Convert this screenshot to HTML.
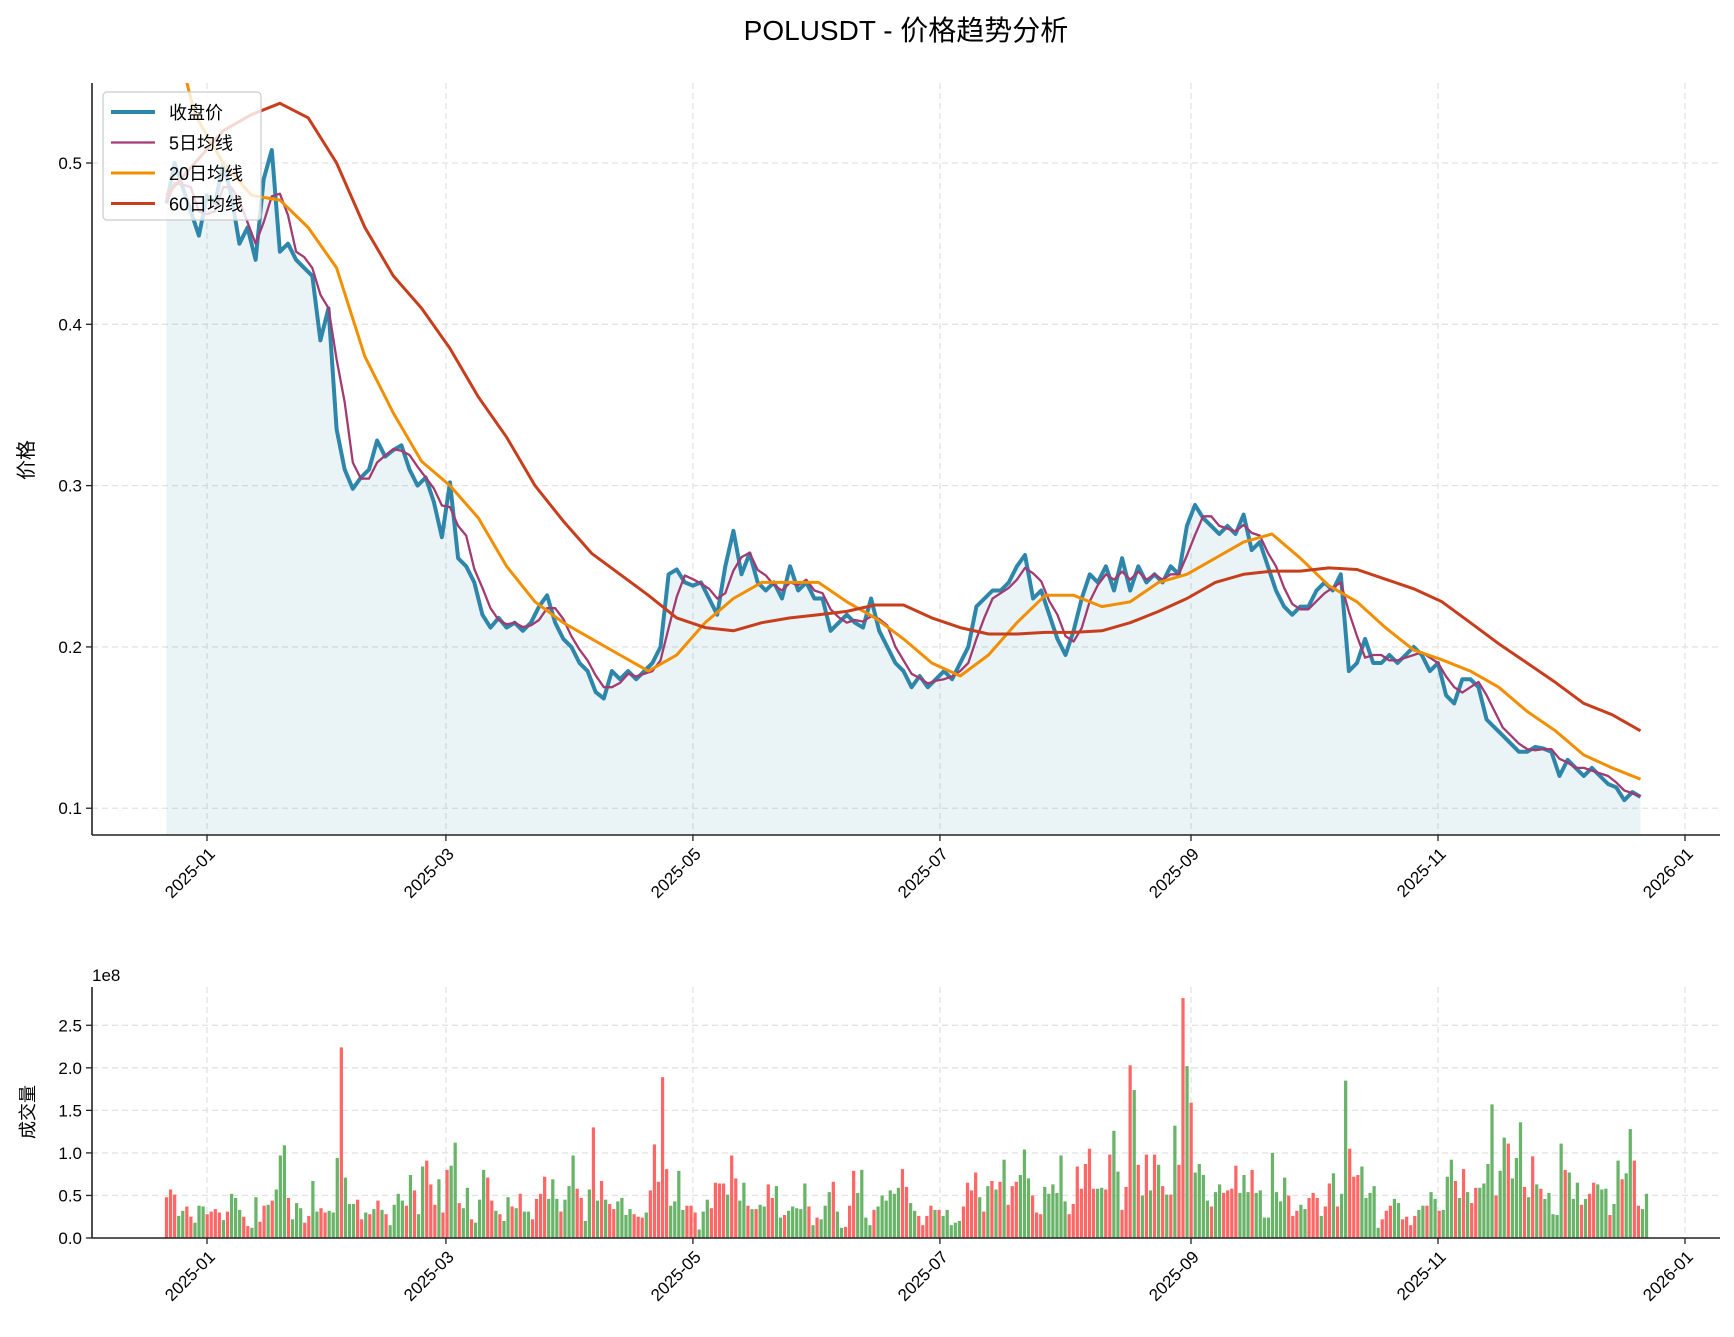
<!DOCTYPE html>
<html><head><meta charset="utf-8"><style>
body{margin:0;background:#fff}
svg text{font-family:"WenQuanYi Zen Hei","Liberation Sans","Noto Sans CJK SC",sans-serif;fill:#000}
</style></head><body>
<svg id="chart" width="1734" height="1332" viewBox="0 0 1734 1332" xmlns="http://www.w3.org/2000/svg">
<text x="906" y="40" font-size="28" text-anchor="middle">POLUSDT - 价格趋势分析</text>
<g id="price"></g>
<g id="vol"></g>
</svg>
<script>
// ---- data ----
const closeStart = -10;  // 2024-12-22, days relative to 2025-01-01
const closeStep = 2;
const closeValues = [0.475,0.50,0.485,0.47,0.455,
0.48,0.475,0.50,0.48,0.45,0.46,0.44,0.49,0.508,0.445,0.45,0.44,0.435,0.43,0.39,0.41,
0.335,0.31,0.298,0.305,0.31,0.328,0.318,0.322,0.325,0.31,0.30,0.305,0.29,0.268,
0.302,0.255,0.25,0.24,0.22,0.212,0.218,0.212,0.215,0.21,0.215,0.225,0.232,0.215,0.205,
0.20,0.19,0.185,0.172,0.168,0.185,0.18,0.185,0.18,0.185,0.19,0.2,0.245,0.248,0.24,
0.238,0.24,0.23,0.22,0.25,0.272,0.245,0.258,0.24,0.235,0.24,0.23,0.25,0.235,0.24,0.23,
0.23,0.21,0.215,0.22,0.215,0.212,0.23,0.21,0.20,0.19,0.185,0.175,0.182,0.175,0.18,
0.185,0.18,0.19,0.20,0.225,0.23,0.235,0.235,0.24,0.25,0.257,0.23,0.235,0.22,0.205,
0.195,0.21,0.23,0.245,0.24,0.25,0.235,0.255,0.235,0.25,0.24,0.245,0.24,0.25,0.245,0.275,
0.288,0.28,0.275,0.27,0.275,0.27,0.282,0.26,0.265,0.25,0.235,0.225,0.22,0.225,0.225,
0.235,0.24,0.235,0.245,0.185,0.19,0.205,0.19,0.19,0.195,0.19,0.195,0.2,0.195,0.185,
0.19,0.17,0.165,0.18,0.18,0.175,0.155,0.15,0.145,0.14,0.135,0.135,0.138,0.137,0.135,
0.12,0.13,0.125,0.12,0.125,0.12,0.115,0.113,0.105,0.11,0.107];
const maStep = 7;
const ma20Values = [0.60,0.53,0.50,0.48,0.477,0.46,0.435,0.38,0.345,0.315,0.30,0.28,0.25,0.228,0.215,0.205,0.195,0.185,0.195,0.215,0.23,0.24,0.24,0.24,0.228,0.218,0.205,0.19,0.182,0.195,0.215,0.232,0.232,0.225,0.228,0.24,0.245,0.255,0.265,0.27,0.255,0.238,0.228,0.212,0.198,0.192,0.185,0.175,0.16,0.148,0.133,0.125,0.118];
const ma60Values = [0.48,0.50,0.52,0.53,0.537,0.528,0.50,0.46,0.43,0.41,0.385,0.355,0.33,0.30,0.278,0.258,0.245,0.232,0.218,0.212,0.21,0.215,0.218,0.22,0.222,0.226,0.226,0.218,0.212,0.208,0.208,0.209,0.209,0.21,0.215,0.222,0.23,0.24,0.245,0.247,0.247,0.249,0.248,0.242,0.236,0.228,0.215,0.202,0.19,0.178,0.165,0.158,0.148];
// daily volume (1e7), suffix r = up (red), g = down (green)
const volRaw = ("4.8r 5.7r 5.1r 2.6g 3.2g 3.7r 2.5r 1.8g 3.8g 3.7g 2.8r 3.1r 3.4r 3.0r 2.1g 3.1r 5.2g 4.7g 3.3g 2.5r 1.4r 1.2g 4.8g 1.9r 3.8r 3.9g 4.4r 5.7g 9.7g 10.9g 4.7r 2.2g 4.1g 3.5g 1.8r 2.6r 6.7g 3.1g 3.5r 3.0r 3.2g 3.0g 9.4g 22.4r 7.1g 4.0g 4.0g 4.5r 2.2r 3.0g 2.8r 3.4g 4.4r 3.3g 2.8r 1.5g 3.9g 5.2g 4.4g 3.8r 7.4g 5.6r 2.8g 8.4g 9.1r 6.3r 3.9r 6.9g 3.0r 8.0r 8.5g 11.2g 4.1r 3.5g 5.9g 2.2r 1.8g 4.5g 8.0g 7.1r 4.4r 3.2g 2.8r 2.0g 4.8g 3.7r 3.5g 5.2r 3.1g 3.1g 2.2r 4.6r 5.2r 7.2r 4.6g 6.9g 4.6g 3.1r 4.5g 6.1g 9.7g 5.8r 4.7r 2.0g 5.7g 13.0r 4.4g 6.7r 4.5g 4.0r 3.4r 4.3g 4.7g 2.7g 3.4g 2.8r 2.5r 2.4r 3.0g 5.6r 11.0r 6.6r 18.9r 8.1r 3.8g 4.3g " +
"7.9g 3.3g 3.8r 3.8r 3.0r 1.0g 3.1g 4.5g 3.5r 6.5r 6.4r 6.4r 5.1g 9.7r 7.0r 4.4g 6.5g 3.8r 3.4g 3.4r 3.9g 3.7g 6.3r 4.7r 6.1g 2.4g 2.7r 3.2g 3.7g 3.5g 3.4g 6.4g 3.7r 1.5g 2.4r 2.2g 3.8g 5.4g 6.6r 3.1g 1.2g 1.3r 3.8r 7.9r 5.3g 8.0g 2.4g 1.5g 3.3r 3.7g 5.0g 4.4g 5.6g 5.2g 5.9g 8.1r 6.0r 4.1g 3.2g 2.6r 1.5r 2.6r 3.8r 3.3g 3.3r 2.6g 3.3g 1.5g 1.8g 2.0g 3.7r 6.5r 5.6r 7.7r 4.8g 3.1r 6.1g 6.7r 5.7g 6.6r 9.2g 3.9r 6.1r 6.6r 7.4g 10.4g 7.0g 5.0r 3.0r 2.8r 6.0g 5.2g 6.3g 5.3g 9.7g 4.3g 2.8r 4.0r 8.4r 5.8r 8.7r 10.5r 5.8r 5.8g 5.9g 5.7r 9.8r 12.6g 7.8g 3.3r 6.0r 20.3r 17.4g 8.6r 5.0g 9.8r 5.6g 9.8r 8.6g 6.1r 5.1g 5.1r 13.2g 8.6r 28.2r 20.2g " +
"15.9r 7.7g 8.7g 7.4g 4.4g 3.7r 5.4g 6.3g 5.3r 5.6r 5.8r 8.5r 5.3g 7.4g 5.4g 8.0r 5.3g 5.6g 2.4g 2.4g 10.0g 5.4g 4.3g 7.1g 5.0r 2.6r 3.2r 3.9g 3.4g 4.7r 5.3r 4.7r 2.6g 3.7r 6.4r 7.6g 3.7r 5.2g 18.5g 10.5r 7.2r 7.4r 8.4g 4.7g 5.3g 6.1g 1.2g 2.2r 3.2r 3.8r 4.6g 4.1g 2.2r 2.5r 1.5r 2.6r 3.3g 3.8g 3.8r 5.4g 4.6g 3.2r 3.3g 7.2g 9.2g 6.7r 4.7g 8.1r 5.4g 4.1r 5.9r 5.9g 6.4g 8.7g 15.7g 5.0r 7.9g 11.8g 11.1r 7.0g 9.4g 13.6g 6.0r 4.8g 9.6r 6.3g 5.8r 4.6g 5.3g 2.8g 2.7g 11.1g 8.0r 7.7g 4.6g 6.5g 3.9r 4.6g 5.2r 6.5r 6.3g 5.7g 5.8g 2.7r 4.0g 9.1g 6.9r 7.6g 12.8g 9.1r 3.8r 3.4g 5.2g").split(' ');
const volValues = volRaw.map(s=>parseFloat(s));
const volDir = volRaw.map(s=>s.slice(-1));
const volFirstDay = -10, volLastDay = 355.5;
const monthTicks = ["2025-01","2025-03","2025-05","2025-07","2025-09","2025-11","2026-01"];
const monthTickDays = [0,59,120,181,243,304,365];
const priceTicks = [0.1,0.2,0.3,0.4,0.5];
const volTicks = [0,0.5,1.0,1.5,2.0,2.5];

// ---- axes ----
const NS="http://www.w3.org/2000/svg";
const X0=92, X1=1720;
const xDay = d => 207 + d*(1478/365);
const PY0=83, PY1=835, pMin=0.0834, pMax=0.5496;
const yP = v => PY1 - (v-pMin)/(pMax-pMin)*(PY1-PY0);
const VY0=987, VY1=1238, vMax=2.95;
const yV = v => VY1 - v/vMax*(VY1-VY0);
function mk(tag, attrs, parent){const e=document.createElementNS(NS,tag);for(const k in attrs)e.setAttribute(k,attrs[k]);parent.appendChild(e);return e;}
const P=document.getElementById('price'), V=document.getElementById('vol');
const clip=mk('clipPath',{id:'pc'},document.getElementById('chart'));
mk('rect',{x:X0,y:PY0,width:X1-X0,height:PY1-PY0},clip);

function grids(g, y0, y1, ticks, yf){
  monthTickDays.forEach((d,i)=>{
    const l=mk('line',{x1:xDay(d),x2:xDay(d),y1:y0,y2:y1,stroke:'#e3e3e3','stroke-width':1.3,'stroke-dasharray':'6,4'},g);
    
    
  });
  ticks.forEach(t=>{
    const l=mk('line',{x1:X0,x2:X1,y1:yf(t),y2:yf(t),stroke:'#e3e3e3','stroke-width':1.3,'stroke-dasharray':'6,4'},g);
    
    
  });
}
function axesDeco(g, y0, y1, ticks, yf, fmt){
  mk('line',{x1:X0,x2:X0,y1:y0,y2:y1,stroke:'#222','stroke-width':1.6},g);
  mk('line',{x1:X0,x2:X1,y1:y1,y2:y1,stroke:'#222','stroke-width':1.6},g);
  ticks.forEach(t=>{
    mk('line',{x1:X0-6,x2:X0,y1:yf(t),y2:yf(t),stroke:'#222','stroke-width':1.3},g);
    const tx=mk('text',{x:X0-10,y:yf(t)+6,'font-size':17,'text-anchor':'end'},g);
    tx.textContent=fmt(t);
    
    
  });
  monthTicks.forEach((m,i)=>{
    const x=xDay(monthTickDays[i]);
    mk('line',{x1:x,x2:x,y1:y1,y2:y1+6,stroke:'#222','stroke-width':1.3},g);
    const tx=mk('text',{x:x+9,y:y1+20,'font-size':17,'text-anchor':'end',transform:`rotate(-45 ${x+9} ${y1+20})`},g);
    tx.textContent=m;
    
    
  });
}

// price panel
grids(P,PY0,PY1,priceTicks,yP);
const closeDays = closeValues.map((v,i)=>closeStart+i*closeStep);
const ptsClose = closeValues.map((v,i)=>[xDay(closeDays[i]),yP(v)]);
const cg=mk('g',{'clip-path':'url(#pc)'},P);
let fd=`M${ptsClose[0][0]},${PY1} `+ptsClose.map(p=>`L${p[0].toFixed(1)},${p[1].toFixed(1)}`).join(' ')+` L${ptsClose[ptsClose.length-1][0]},${PY1} Z`;
const fill=mk('path',{d:fd,fill:'#2E86AB','fill-opacity':0.1},cg);


function line(pts,color,w,name){
  const p=mk('path',{d:'M'+pts.map(p=>p[0].toFixed(1)+','+p[1].toFixed(1)).join(' L'),fill:'none',stroke:color,'stroke-width':w,'stroke-linejoin':'round'},cg);
  
  
}
const ma5 = closeValues.map((v,i)=>{const s=closeValues.slice(Math.max(0,i-2),i+1);return s.reduce((a,b)=>a+b,0)/s.length;});
line(ptsClose,'#2E86AB',4,'close-price-line');
line(ma5.map((v,i)=>[xDay(closeDays[i]),yP(v)]),'#A23B72',2.3,'ma5-line');
line(ma20Values.map((v,i)=>[xDay(closeStart+i*maStep),yP(v)]),'#F18F01',3,'ma20-line');
line(ma60Values.map((v,i)=>[xDay(closeStart+i*maStep),yP(v)]),'#C73E1D',3,'ma60-line');
axesDeco(P,PY0,PY1,priceTicks,yP,t=>t.toFixed(1));
const yl=mk('text',{x:33,y:460,'font-size':20,'text-anchor':'middle',transform:'rotate(-90 33 460)'},P);
yl.textContent='价格';



// legend
const lg=mk('g',{},P);


mk('rect',{x:103,y:92,width:158,height:128,rx:4,fill:'#fff','fill-opacity':0.8,stroke:'#ccc','stroke-width':1.2},lg);
const legendNames=['收盘价','5日均线','20日均线','60日均线'];
const legendColors=['#2E86AB','#A23B72','#F18F01','#C73E1D'];
const legendW=[4,2.3,3,3];
legendNames.forEach((n,i)=>{
  const y=112+i*30.5;
  mk('line',{x1:111,x2:155,y1:y,y2:y,stroke:legendColors[i],'stroke-width':legendW[i]},lg);
  const t=mk('text',{x:169,y:y+7,'font-size':18},lg);
  t.textContent=n;
  
  
});

// volume panel
grids(V,VY0,VY1,volTicks,yV);
const volStep = (volLastDay-volFirstDay)/(volValues.length-1);
volValues.forEach((v,i)=>{
  const x=xDay(volFirstDay+i*volStep);
  const r=mk('rect',{x:(x-1.62).toFixed(2),y:yV(v/10).toFixed(1),width:3.24,height:(VY1-yV(v/10)).toFixed(1),fill:volDir[i]==='g'?'#5cae5c':'#ff5a5a','fill-opacity':0.92},V);
  
  
});
axesDeco(V,VY0,VY1,volTicks,yV,t=>t.toFixed(1));
const e8=mk('text',{x:92,y:981,'font-size':17},V);
e8.textContent='1e8';


const vl=mk('text',{x:34,y:1112,'font-size':18,'text-anchor':'middle',transform:'rotate(-90 34 1112)'},V);
vl.textContent='成交量';


</script>
</body></html>
